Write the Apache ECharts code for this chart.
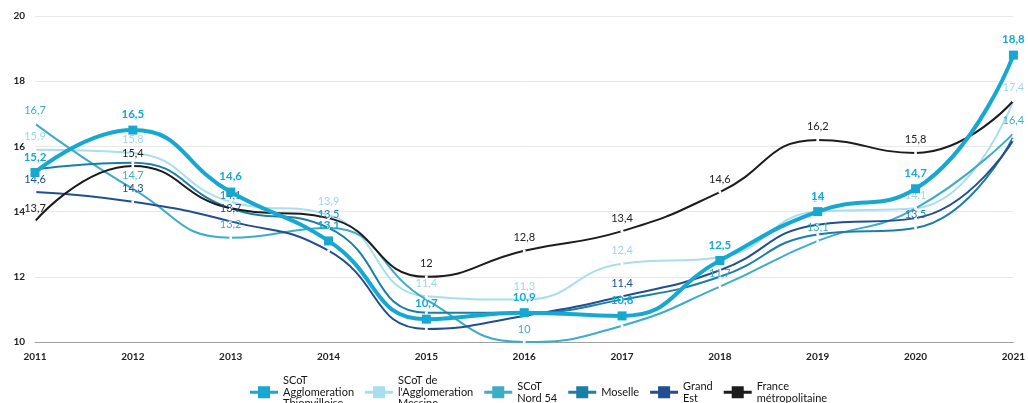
<!DOCTYPE html>
<html>
<head>
<meta charset="utf-8">
<script src="https://cdn.jsdelivr.net/npm/echarts@6/dist/echarts.min.js"></script>
<style>html,body{margin:0;padding:0;background:#fff;}#c{width:1028px;height:403px;}</style>
</head>
<body>
<div id="c"></div>
<script>
const years = ['2011','2012','2013','2014','2015','2016','2017','2018','2019','2020','2021'];
const yTicks = [10, 12, 14, 16, 18, 20];

const thionvilloise = [15.2, 16.5, 14.6, 13.1, 10.7, 10.9, 10.8, 12.5, 14.0, 14.7, 18.8];
const messine       = [15.9, 15.8, 14.3, 13.9, 11.4, 11.3, 12.4, 12.6, 14.0, 14.1, 17.4];
const nord54        = [16.7, 14.7, 13.2, 13.5, 11.3, 10.0, 10.5, 11.7, 13.1, 14.1, 16.4];
const moselle       = [15.3, 15.5, 14.1, 13.5, 10.9, 10.9, 11.3, 12.0, 13.3, 13.5, 16.3];
const grandEst      = [14.6, 14.3, 13.7, 12.8, 10.4, 10.8, 11.4, 12.2, 13.6, 13.8, 16.2];
const france        = [13.7, 15.4, 14.1, 13.8, 12.0, 12.8, 13.4, 14.6, 16.2, 15.8, 17.4];

// indices of points whose value label is visible in the reference
const labelsThionvilloise = [0,1,2,3,4,5,6,7,8,9,10];
const labelsMessine = [0,1,3,4,5,6,8,9,10];
const labelsNord54 = [0,1,2,5,7,8,10];
const labelsMoselle = [2,3,9];
const labelsGrandEst = [0,1,2,6];
const labelsFrance = [0,1,4,5,6,7,8,9];

const seriesNames = [
  'SCoT Agglomeration Thionvilloise',
  "SCoT de l'Agglomeration Messine",
  'SCoT Nord 54',
  'Moselle',
  'Grand Est',
  'France métropolitaine'
];
const legendText = {
  'SCoT Agglomeration Thionvilloise': 'SCoT\nAgglomeration\nThionvilloise',
  "SCoT de l'Agglomeration Messine": "SCoT de\nl'Agglomeration\nMessine",
  'SCoT Nord 54': 'SCoT\nNord 54',
  'Moselle': 'Moselle',
  'Grand Est': 'Grand\nEst',
  'France métropolitaine': 'France\nmétropolitaine'
};
const colors = ['#17a8d2', '#a8dfee', '#3cadc7', '#1b7ea7', '#214f8f', '#1c1c1c'];
const labelColors = ['#17a8d2', '#9dd8ea', '#3cadc7', '#1b7ea7', '#214f8f', '#222222'];

const fmt = v => String(v).replace('.', ',');
const FONT = 'Lato, "Open Sans", sans-serif';

function build(values, shown) {
  return values.map((v, i) => ({ value: v, label: { show: shown.indexOf(i) >= 0 } }));
}

function thinSeries(idx, values, shown) {
  return {
    name: seriesNames[idx],
    type: 'line',
    smooth: 0.5,
    data: build(values, shown),
    symbol: 'circle',
    symbolSize: 3,
    showSymbol: true,
    lineStyle: { color: colors[idx], width: 2 },
    itemStyle: { color: '#ffffff', borderWidth: 0 },
    label: {
      position: 'top', distance: 6, color: labelColors[idx],
      fontSize: 11, fontFamily: FONT, formatter: p => fmt(p.value)
    },
    emphasis: { disabled: true },
    z: 2
  };
}

const legendIcon = 'path://M0,4.5H8V0H20V4.5H28V7.5H20V12H8V7.5H0Z';

const option = {
  animation: false,
  backgroundColor: '#ffffff',
  grid: { left: 35, right: 11, top: 16, bottom: 61, containLabel: false },
  xAxis: {
    type: 'category',
    data: years,
    boundaryGap: false,
    axisLine: { lineStyle: { color: '#a0a0a0', width: 1 } },
    axisTick: { show: false },
    axisLabel: { color: '#222', fontSize: 10, fontWeight: 'bold', fontFamily: FONT, margin: 10 },
    splitLine: { show: false }
  },
  yAxis: {
    type: 'value',
    min: yTicks[0],
    max: yTicks[yTicks.length - 1],
    interval: 2,
    axisLine: { show: false },
    axisTick: { show: false },
    axisLabel: { color: '#222', fontSize: 10, fontWeight: 'bold', fontFamily: FONT, margin: 10 },
    splitLine: { lineStyle: { color: '#e8e8e8', width: 1 } }
  },
  legend: {
    left: 245,
    top: 370,
    itemWidth: 28,
    itemHeight: 12,
    itemGap: 11,
    textStyle: { fontSize: 11, lineHeight: 11.5, color: '#151515', fontFamily: FONT },
    formatter: name => legendText[name],
    data: seriesNames.map((n, i) => ({ name: n, icon: legendIcon, itemStyle: { color: colors[i] } }))
  },
  series: [
    thinSeries(1, messine, labelsMessine),
    thinSeries(2, nord54, labelsNord54),
    thinSeries(3, moselle, labelsMoselle),
    thinSeries(4, grandEst, labelsGrandEst),
    thinSeries(5, france, labelsFrance),
    {
      name: seriesNames[0],
      type: 'line',
      smooth: 0.5,
      data: build(thionvilloise, labelsThionvilloise),
      symbol: 'rect',
      symbolSize: 9,
      lineStyle: { color: colors[0], width: 4 },
      itemStyle: { color: colors[0] },
      label: {
        position: 'top', distance: 5, color: colors[0],
        fontSize: 11.5, fontWeight: 'bold', fontFamily: FONT, formatter: p => fmt(p.value)
      },
      emphasis: { disabled: true },
      z: 3
    }
  ]
};

const chart = echarts.init(document.getElementById('c'), null, { renderer: 'canvas' });
chart.setOption(option);
</script>
</body>
</html>
